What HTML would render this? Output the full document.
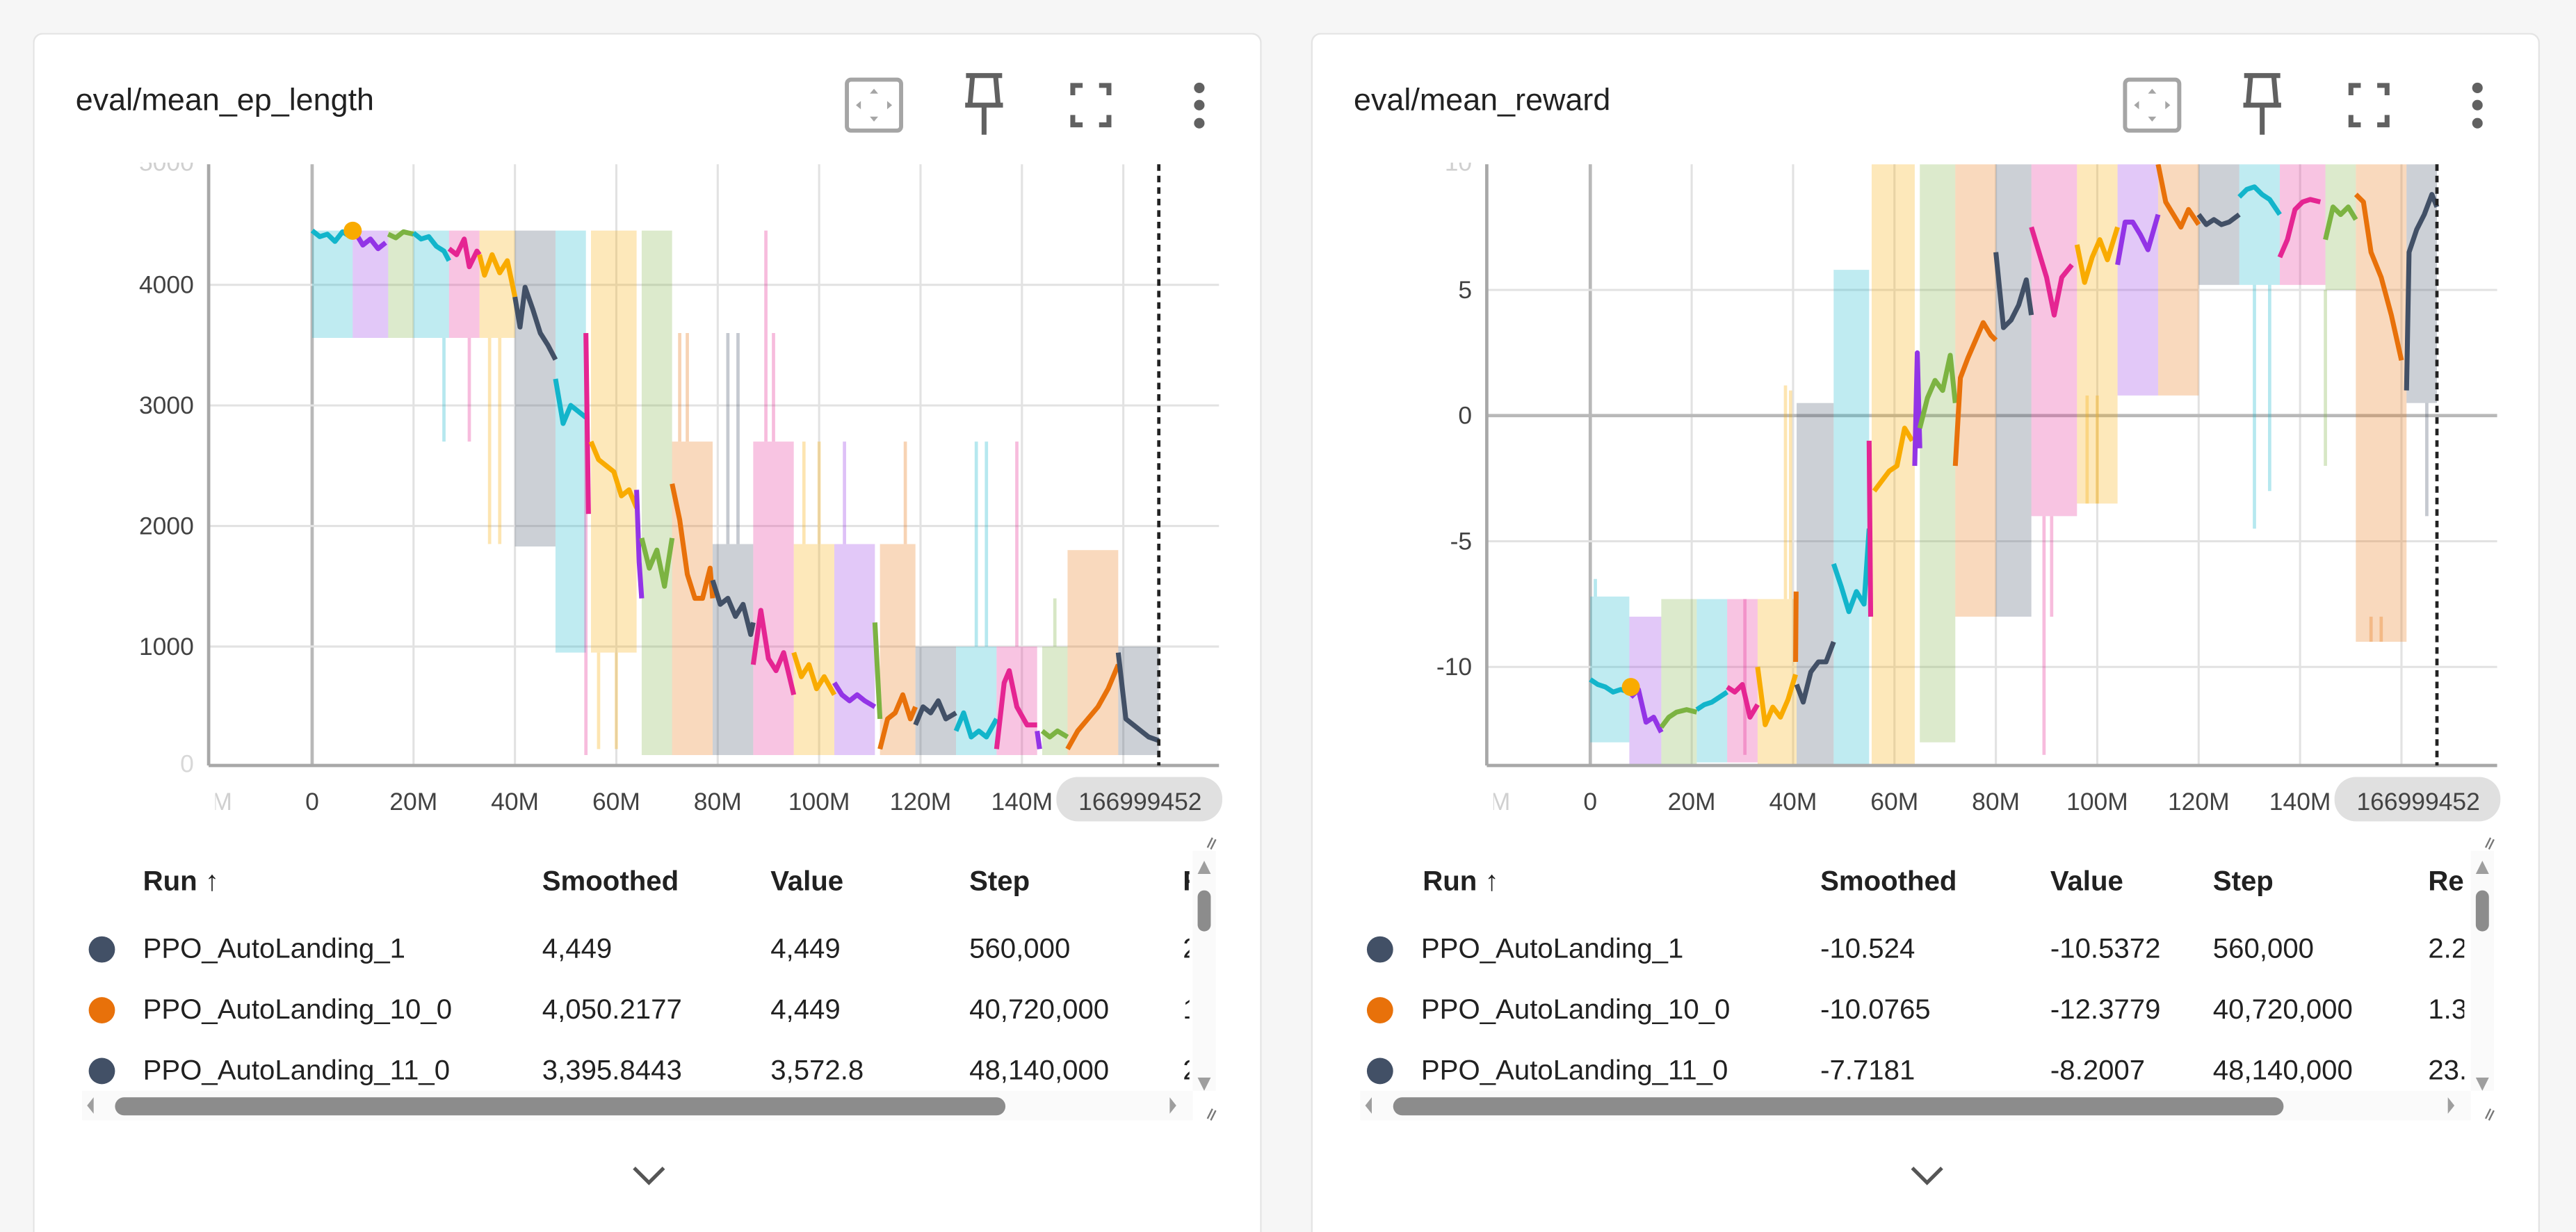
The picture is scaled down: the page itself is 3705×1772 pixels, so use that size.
<!DOCTYPE html>
<html><head><meta charset="utf-8">
<style>
html,body{margin:0;padding:0;width:3705px;height:1772px;overflow:hidden;background:#f6f6f6;font-family:"Liberation Sans",sans-serif;}
#wrap{position:absolute;left:0;top:0;width:1568px;height:750px;overflow:hidden;transform-origin:0 0;transform:scale(2.36288,2.36267);}
.card{position:absolute;top:20px;width:748px;height:730px;background:#fff;border:1px solid #e4e4e4;border-bottom:none;border-radius:6px 6px 0 0;box-sizing:border-box;}
.title{position:absolute;left:25px;top:30px;font-size:19px;color:#212121;}
.tbl{position:absolute;font-size:17px;color:#212121;white-space:nowrap;}
.cell{position:absolute;}
.hdr{font-weight:bold;}
.dot{position:absolute;width:16px;height:16px;border-radius:50%;}
</style></head><body>
<div id="wrap">
  <div class="card" style="left:20px">
    <div class="title">eval/mean_ep_length</div>
  </div>
  <div class="card" style="left:798px">
    <div class="title">eval/mean_reward</div>
  </div>
  <svg id="svg" width="1568" height="750" style="position:absolute;left:0;top:0"></svg>

  <div class="tbl" style="left:0;top:0;width:1568px;height:750px">
    <div style="position:absolute;left:40px;top:518px;width:684px;height:150px;overflow:hidden">
      <div class="cell hdr" style="left:47px;top:9px">Run ↑</div>
      <div class="cell hdr" style="left:290px;top:9px">Smoothed</div>
      <div class="cell hdr" style="left:429px;top:9px">Value</div>
      <div class="cell hdr" style="left:550px;top:9px">Step</div>
      <div class="cell hdr" style="left:680px;top:9px">Relative</div>
      <div class="dot" style="left:14px;top:52px;background:#425066"></div>
      <div class="cell" style="left:47px;top:50px">PPO_AutoLanding_1</div>
      <div class="cell" style="left:290px;top:50px">4,449</div>
      <div class="cell" style="left:429px;top:50px">4,449</div>
      <div class="cell" style="left:550px;top:50px">560,000</div>
      <div class="cell" style="left:680px;top:50px">2</div>
      <div class="dot" style="left:14px;top:89px;background:#e8710a"></div>
      <div class="cell" style="left:47px;top:87px">PPO_AutoLanding_10_0</div>
      <div class="cell" style="left:290px;top:87px">4,050.2177</div>
      <div class="cell" style="left:429px;top:87px">4,449</div>
      <div class="cell" style="left:550px;top:87px">40,720,000</div>
      <div class="cell" style="left:680px;top:87px">1</div>
      <div class="dot" style="left:14px;top:126px;background:#425066"></div>
      <div class="cell" style="left:47px;top:124px">PPO_AutoLanding_11_0</div>
      <div class="cell" style="left:290px;top:124px">3,395.8443</div>
      <div class="cell" style="left:429px;top:124px">3,572.8</div>
      <div class="cell" style="left:550px;top:124px">48,140,000</div>
      <div class="cell" style="left:680px;top:124px">2</div>
    </div>
  </div>
  <div class="tbl" style="left:0;top:0;width:1568px;height:750px">
    <div style="position:absolute;left:818px;top:518px;width:682px;height:150px;overflow:hidden">
      <div class="cell hdr" style="left:48px;top:9px">Run ↑</div>
      <div class="cell hdr" style="left:290px;top:9px">Smoothed</div>
      <div class="cell hdr" style="left:430px;top:9px">Value</div>
      <div class="cell hdr" style="left:529px;top:9px">Step</div>
      <div class="cell hdr" style="left:660px;top:9px">Relative</div>
      <div class="dot" style="left:14px;top:52px;background:#425066"></div>
      <div class="cell" style="left:47px;top:50px">PPO_AutoLanding_1</div>
      <div class="cell" style="left:290px;top:50px">-10.524</div>
      <div class="cell" style="left:430px;top:50px">-10.5372</div>
      <div class="cell" style="left:529px;top:50px">560,000</div>
      <div class="cell" style="left:660px;top:50px">2.2</div>
      <div class="dot" style="left:14px;top:89px;background:#e8710a"></div>
      <div class="cell" style="left:47px;top:87px">PPO_AutoLanding_10_0</div>
      <div class="cell" style="left:290px;top:87px">-10.0765</div>
      <div class="cell" style="left:430px;top:87px">-12.3779</div>
      <div class="cell" style="left:529px;top:87px">40,720,000</div>
      <div class="cell" style="left:660px;top:87px">1.3</div>
      <div class="dot" style="left:14px;top:126px;background:#425066"></div>
      <div class="cell" style="left:47px;top:124px">PPO_AutoLanding_11_0</div>
      <div class="cell" style="left:290px;top:124px">-7.7181</div>
      <div class="cell" style="left:430px;top:124px">-8.2007</div>
      <div class="cell" style="left:529px;top:124px">48,140,000</div>
      <div class="cell" style="left:660px;top:124px">23.</div>
    </div>
  </div>
</div>
<script>
const lenSegStart=[0,7,8,15,20,27,33,40,48,54,55,64,65,71,79,87,95,103,111,112,119,127,135,143,144,149,159];
const lenSegEnd  =[8,9.5,15,20,27,33,40,48,54,55,64,65,71,79,87,95,103,111,112,119,127,135,143,144,149,159,167];
const lenSegColor=["cyan","amber","purple","green","cyan","pink","amber","navy","cyan","pink","amber","purple","green","dkorange","navy","pink","amber","purple","green","dkorange","navy","cyan","pink","purple","green","dkorange","navy"];
const lenSegLo=[3560,0,3560,3560,3560,3560,3560,1830,950,0,950,0,100,100,100,100,100,100,0,100,100,100,100,0,100,100,100];
const lenSegHi=[4450,0,4450,4450,4450,4450,4450,4450,4450,0,4450,0,4450,2700,1850,2700,1850,1850,0,1850,1000,1000,1000,0,1000,1800,1000];
const lenLineSteps=[[0,1.5,3,4.5,6,7.5],[7,8,9.5],[9,10,11.5,13,14.5],[15,16.5,18,20],[20,21.5,23,24.5,26,27],[27,28.5,30,31,32.5,33],[33,34,35.5,37,38.5,40],[40,41,42,43.5,45,46.5,48],[48,49.5,51,52.5,54],[54,54.5],[55,56.5,58,59.5,61,62.5,64],[64,64.5,65],[65,66.5,68,69.5,71],[71,72.5,74,75.5,77,78.5,79],[79,80.5,82,83.5,85,86.5,87],[87,88.5,90,91.5,93,95],[95,96.5,98,99.5,101,103],[103,104.5,106,107.5,109,111],[111,112],[112,113.5,115,116.5,118,119],[119,120.5,122,123.5,125,127],[127,128.5,130,131.5,133,135],[135,136.5,137.5,139,141,143],[143,143.5],[144,145.5,147,149],[149,151,153,155,157,159],[159,160.5,162,163.5,165,167]];
const lenLineVals=[[4450,4400,4420,4360,4440,4400],[4440,4480,4430],[4400,4330,4380,4300,4350],[4420,4390,4440,4420],[4430,4380,4400,4320,4280,4200],[4300,4250,4380,4150,4280,4250],[4250,4080,4250,4100,4200,3900],[3900,3650,3980,3800,3600,3500,3380],[3220,2850,3000,2950,2900],[3600,2100],[2700,2550,2500,2450,2250,2300,2150],[2300,1700,1400],[1900,1650,1800,1500,1900],[2350,2050,1600,1400,1400,1650,1400],[1550,1350,1400,1250,1350,1100,1200],[850,1300,900,800,950,600],[950,750,850,650,750,600],[700,600,550,600,550,500],[1200,400],[150,400,450,600,400,500],[350,500,450,550,400,450],[300,450,250,300,250,400],[150,700,800,500,350,350],[300,150],[300,250,300,250],[150,300,400,500,650,850],[950,400,350,300,250,220]];
const lenSpikeStep=[26,31,35,37,54,56.5,60,72.5,74,82,84,89.5,91,97,100,105,117,131,133,139,146.5];
const lenSpikeLo=[2700,2700,1850,1850,100,150,150,2700,2700,1850,1850,2700,2700,1850,1850,1850,1850,1000,1000,1000,1000];
const lenSpikeHi=[3560,3560,3560,3560,3600,950,950,3600,3600,3600,3600,4450,3600,2700,2700,2700,2700,2700,2700,2700,1400];
const lenSpikeColor=["cyan","pink","amber","amber","pink","amber","amber","dkorange","dkorange","navy","navy","pink","pink","amber","amber","purple","dkorange","cyan","cyan","pink","green"];
const lenYTicks=[1000,2000,3000,4000];
const lenYLabels=["1000","2000","3000","4000"];

const rewSegStart=[0,7.7,14,21,27,33,40.5,40.7,48,55,55.5,64,65,72,80,87,96,104,112,120,128,136,145,151,161];
const rewSegEnd  =[7.7,14,21,27,33,40.7,40.8,48,55,55.5,64,65,72,80,87,96,104,112,120,128,136,145,151,161,167];
const rewSegColor=["cyan","purple","green","cyan","pink","amber","dkorange","navy","cyan","pink","amber","purple","green","dkorange","navy","pink","amber","purple","dkorange","navy","cyan","pink","green","dkorange","navy"];
const rewSegLo=[-13,-14,-14,-13.8,-13.8,-14,0,-14,-14,0,-14,0,-13,-8,-8,-4,-3.5,0.8,0.8,5.2,5.2,5.2,5,-9,0.5];
const rewSegHi=[-7.2,-8,-7.3,-7.3,-7.3,-7.3,0,0.5,5.8,0,10,0,10,10,10,10,10,10,10,10,10,10,10,10,10];
const rewLineSteps=[[0,1.5,3,4.5,6,7.7],[8,9.5,11,12.5,14],[14,15.5,17,19,21],[21,22.5,24,25.5,27],[27,28.5,30,31.5,33],[33,34.5,36,37.5,39,40.5],[40.5,40.6],[40.7,42,43.5,45,46.5,48],[48,49.5,51,52.5,54,55],[55,55.3],[56,57.5,59,60.5,62,63.5],[64,64.5,65],[65,66.5,68,69.5,71,72],[72,73,74.5,76,77.5,79,80],[80,81.5,83,84.5,86,87],[87,88.5,90,91.5,93,95],[96,97.5,99,100.5,102,104],[104,105.5,107,108.5,110,112],[112,113.5,115,116.5,118,120],[120,121.5,123,124.5,126,128],[128,129.5,131,132.5,134,136],[136,137.5,139,140.5,142,144],[145,146.5,148,149.5,151],[151,152.5,154,156,158,160],[161,161.5,163,164.5,166,167]];
const rewLineVals=[[-10.5,-10.7,-10.8,-11.0,-10.9,-11.0],[-11.2,-10.9,-12.2,-12.0,-12.6],[-12.4,-12.0,-11.8,-11.7,-11.8],[-11.7,-11.5,-11.4,-11.2,-11.0],[-10.8,-11.0,-10.7,-12.0,-11.5],[-10.0,-12.3,-11.6,-12.0,-11.3,-10.3],[-9.8,-7.0],[-10.7,-11.4,-10.2,-9.8,-9.8,-9.0],[-5.9,-6.8,-7.8,-7.0,-7.5,-4.5],[-1.0,-8.0],[-3.0,-2.6,-2.2,-2.0,-0.5,-1.0],[-2.0,2.5,-1.3],[-0.5,0.7,1.4,1.0,2.4,0.5],[-2.0,1.5,2.3,3.0,3.7,3.2,3.0],[6.5,3.5,3.8,4.4,5.4,4.0],[7.5,6.5,5.5,4.0,5.5,6.0],[6.8,5.3,6.3,7.0,6.2,7.5],[6.0,7.7,7.7,7.2,6.6,8.0],[10.0,8.5,8.0,7.5,8.2,7.6],[8.0,7.6,7.8,7.6,7.7,8.0],[8.7,9.0,9.1,8.8,8.6,8.0],[6.3,7.0,8.2,8.5,8.6,8.5],[7.0,8.3,8.0,8.3,7.8],[8.8,8.5,6.5,5.5,4.0,2.2],[1.0,6.5,7.4,8.0,8.8,8.3]];
const rewSpikeStep=[1,30.5,38.5,39.5,52,89.5,91,98,100,131,134,145,154,156,165];
const rewSpikeLo=[-7.2,-13.5,-7.3,-7.3,5.8,-13.5,-8,-3.5,-3.5,-4.5,-3,-2,-9,-9,-4];
const rewSpikeHi=[-6.5,-7.3,1.2,1.0,5.8,-4,-4,0.8,0.8,5.2,5.2,5,-8,-8,0.5];
const rewSpikeColor=["cyan","pink","amber","amber","cyan","pink","pink","amber","amber","cyan","cyan","green","dkorange","dkorange","navy"];
const rewYTicks=[-10,-5,0,5];
const rewYLabels=["-10","-5","0","5"];

const xTicks=[0,20,40,60,80,100,120,140];
const xLabels=["0","20M","40M","60M","80M","100M","120M","140M"];
const colorMap={cyan:"#12b5cb",purple:"#9334e6",green:"#7cb342",pink:"#e52592",amber:"#f9ab00",navy:"#425066",dkorange:"#e8710a"};

const NS="http://www.w3.org/2000/svg";
const svg=document.getElementById("svg");
function mk(tag,attrs,parent){const e=document.createElementNS(NS,tag);for(const k in attrs)e.setAttribute(k,attrs[k]);(parent||svg).appendChild(e);return e;}

function drawChart(c){
  const xs=s=>c.x0+s*c.pxPerM;
  const ys=v=>c.yZero-(v-c.vZero)*c.pxPerUnit;
  const g=mk("g",{});
  
  
  const clipId="clip"+c.id;
  const cp=mk("clipPath",{id:clipId},g);
  mk("rect",{x:c.left,y:c.top,width:c.right-c.left,height:c.bottom-c.top},cp);
  xTicks.forEach((t,i)=>{
    const l=mk("line",{x1:xs(t),x2:xs(t),y1:c.top,y2:c.bottom,stroke:t===0?"#b8b8b8":"#e2e2e2","stroke-width":t===0?2:1.3},g);
    
    
  });
  [xs(160),xs(180)].forEach(x=>{mk("line",{x1:x,x2:x,y1:c.top,y2:c.bottom,stroke:"#e2e2e2","stroke-width":1.3,"clip-path":"url(#"+clipId+")"},g);});
  c.yTicks.forEach((t,i)=>{
    const l=mk("line",{x1:c.left,x2:c.right,y1:ys(t),y2:ys(t),stroke:t===0?"#b8b8b8":"#e2e2e2","stroke-width":t===0?2:1.3},g);
    
    
    const tx=mk("text",{x:c.left-9,y:ys(t)+5,"text-anchor":"end","font-size":15,fill:"#424242"},g);
    tx.textContent=c.yLabels[i];
    
    
  });
  const tt=mk("text",{x:c.left-9,y:c.top+4,"text-anchor":"end","font-size":15,fill:"#d0d0d0"},g);
  tt.textContent=c.topLabel;
  const bt=mk("text",{x:c.left-9,y:c.bottom+4,"text-anchor":"end","font-size":15,fill:"#d8d8d8"},g);
  bt.textContent=c.bottomLabel;
  mk("rect",{x:c.left-60,y:c.top-20,width:70,height:19,fill:"#fff"},g);
  const plot=mk("g",{"clip-path":"url(#"+clipId+")"},g);
  
  
  c.segStart.forEach((s,i)=>{
    if(c.segHi[i]<=c.segLo[i])return;
    const r=mk("rect",{x:xs(s),y:ys(c.segHi[i]),width:xs(c.segEnd[i])-xs(s),height:ys(c.segLo[i])-ys(c.segHi[i]),fill:colorMap[c.segColor[i]],opacity:0.27},plot);
    
    
  });
  c.spikeStep.forEach((s,i)=>{
    const l=mk("line",{x1:xs(s),x2:xs(s),y1:ys(c.spikeLo[i]),y2:ys(c.spikeHi[i]),stroke:colorMap[c.spikeColor[i]],"stroke-width":2,opacity:0.3},plot);
    
    
  });
  c.lineSteps.forEach((steps,i)=>{
    const pts=steps.map((s,j)=>xs(s).toFixed(2)+","+ys(c.lineVals[i][j]).toFixed(2)).join(" ");
    const p=mk("polyline",{points:pts,fill:"none",stroke:colorMap[c.segColor[i]],"stroke-width":3,"stroke-linejoin":"round"},plot);
    
    
  });
  const d=mk("circle",{cx:xs(c.dotStep),cy:ys(c.dotVal),r:5.5,fill:"#f9ab00"},plot);
  
  
  const ya=mk("line",{x1:c.left,x2:c.left,y1:c.top,y2:c.bottom,stroke:"#a8a8a8","stroke-width":2},g);
  
  
  const xa=mk("line",{x1:c.left,x2:c.right,y1:c.bottom,y2:c.bottom,stroke:"#a8a8a8","stroke-width":2},g);
  
  
  const dl=mk("line",{x1:xs(167),x2:xs(167),y1:c.top,y2:c.bottom,stroke:"#222","stroke-width":2,"stroke-dasharray":"4,3"},g);
  
  
  xTicks.forEach((t,i)=>{
    const tx=mk("text",{x:xs(t),y:c.bottom+27,"text-anchor":"middle","font-size":15,fill:"#424242"},g);
    tx.textContent=xLabels[i];
    
    
  });
  const clip2="clipx"+c.id;
  const cp2=mk("clipPath",{id:clip2},g);
  mk("rect",{x:c.left+4,y:c.bottom,width:40,height:40},cp2);
  const fx=mk("text",{x:xs(-20)-4,y:c.bottom+27,"text-anchor":"middle","font-size":15,fill:"#d0d0d0","clip-path":"url(#"+clip2+")"},g);
  fx.textContent="-20M";
  const pill=mk("rect",{x:c.right-99,y:c.bottom+7,width:101,height:27,rx:13,fill:"#e0e0e0"},g);
  
  
  const pt=mk("text",{x:c.right-48,y:c.bottom+27,"text-anchor":"middle","font-size":15,fill:"#424242"},g);
  pt.textContent="166999452";
}

drawChart({id:"L",name:"ep-length-chart",left:127,right:742,top:100,bottom:466,x0:190,pxPerM:3.086,yZero:467,vZero:0,pxPerUnit:0.0734,
  yTicks:lenYTicks,yLabels:lenYLabels,topLabel:"5000",bottomLabel:"0",
  segStart:lenSegStart,segEnd:lenSegEnd,segColor:lenSegColor,segLo:lenSegLo,segHi:lenSegHi,
  lineSteps:lenLineSteps,lineVals:lenLineVals,spikeStep:lenSpikeStep,spikeLo:lenSpikeLo,spikeHi:lenSpikeHi,spikeColor:lenSpikeColor,dotStep:8,dotVal:4449});
drawChart({id:"R",name:"reward-chart",left:905,right:1520,top:100,bottom:466,x0:968,pxPerM:3.086,yZero:253,vZero:0,pxPerUnit:15.3,
  yTicks:rewYTicks,yLabels:rewYLabels,topLabel:"10",bottomLabel:"",
  segStart:rewSegStart,segEnd:rewSegEnd,segColor:rewSegColor,segLo:rewSegLo,segHi:rewSegHi,
  lineSteps:rewLineSteps,lineVals:rewLineVals,spikeStep:rewSpikeStep,spikeLo:rewSpikeLo,spikeHi:rewSpikeHi,spikeColor:rewSpikeColor,dotStep:8,dotVal:-10.8});

[0,778].forEach(off=>{
  const g=mk("g",{transform:"translate("+off+",0)"});
  
  
  const fit=mk("g",{},g);
  
  
  mk("rect",{x:515.5,y:48.5,width:33,height:31,rx:2.5,fill:"none",stroke:"#a5a5a5","stroke-width":2.5},fit);
  mk("path",{d:"M532 54l-2.5 3h5zM532 74l-2.5-3h5zM521 64l3-2.5v5zM543 64l-3-2.5v5z",fill:"#a5a5a5"},fit);
  const pin=mk("g",{},g);
  
  
  mk("path",{d:"M588 46h22M592 46l-1.5 17M606 46l1.5 17M587.5 64h23M599 64v18",fill:"none",stroke:"#616161","stroke-width":3},pin);
  const fs=mk("g",{},g);
  
  
  mk("path",{d:"M653 58v-6h6M669 52h6v6M675 70v6h-6M659 76h-6v-6",fill:"none",stroke:"#616161","stroke-width":3},fs);
  const mm=mk("g",{},g);
  
  
  [53.5,64,75].forEach(y=>mk("circle",{cx:730,cy:y,r:3.2,fill:"#616161"},mm));
  const hs=mk("g",{},g);
  
  
  mk("rect",{x:50,y:664,width:676,height:18,fill:"#fafafa"},hs);
  mk("path",{d:"M57 668l-4 5 4 5z",fill:"#9e9e9e"},hs);
  mk("path",{d:"M712 668l4 5-4 5z",fill:"#9e9e9e"},hs);
  mk("rect",{x:70,y:668,width:542,height:11,rx:5.5,fill:"#8c8c8c"},hs);
  const vs=mk("g",{},g);
  
  
  mk("rect",{x:726,y:518,width:14,height:146,fill:"#fafafa"},vs);
  mk("path",{d:"M733 524l-4 8h8z",fill:"#9e9e9e"},vs);
  mk("path",{d:"M733 664l-4-8h8z",fill:"#9e9e9e"},vs);
  mk("rect",{x:729,y:542,width:8,height:25,rx:4,fill:"#8c8c8c"},vs);
  mk("path",{d:"M735 516l3-6M737 517l3-6M735 681l3-6M737 682l3-6",stroke:"#777","stroke-width":1},g);
  const ch=mk("path",{d:"M386 711l9 9 9-9",fill:"none",stroke:"#555","stroke-width":2.2},g);
  
  
});
</script>
</body></html>
